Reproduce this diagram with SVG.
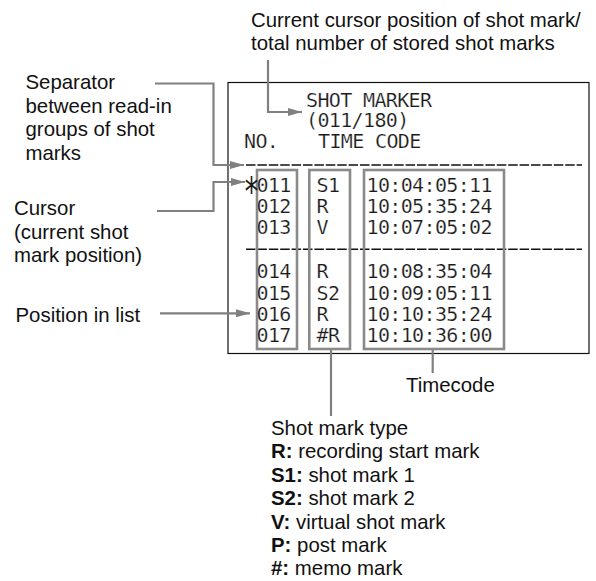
<svg xmlns="http://www.w3.org/2000/svg" width="596" height="581" viewBox="0 0 596 581">
<defs>
<style>
.lbl{font-family:"Liberation Sans",Arial,sans-serif;font-size:20.4px;fill:#111}
.b{font-weight:bold}
.lcd{font-family:"DejaVu Sans Mono","Liberation Mono",monospace;font-size:20px;letter-spacing:-0.64px;fill:#1a1a1a;stroke:#fff;stroke-width:0.2}
.ast{font-family:"DejaVu Sans Mono","Liberation Mono",monospace;font-size:39px;fill:#1a1a1a;text-anchor:middle}
.conn{fill:none;stroke:#808080;stroke-width:2.2}
.col{fill:none;stroke:#8a8a8a;stroke-width:2.6}
.dash{stroke:#111;stroke-width:1.6;stroke-dasharray:9.5 1.9}
</style>
<marker id="ah" viewBox="0 0 14 8" refX="14" refY="4" markerWidth="14" markerHeight="8" markerUnits="userSpaceOnUse" orient="auto">
<path d="M0,0 L14,4 L0,8 Z" fill="#808080"/>
</marker>
</defs>
<rect width="596" height="581" fill="#fff"/>

<g id="screen">
<rect x="228" y="82.5" width="361" height="271" fill="none" stroke="#111" stroke-width="1.2"/>
<text class="lcd" x="306" y="106.5">SHOT MARKER</text>
<text class="lcd" x="306" y="126.5">(011/180)</text>
<text class="lcd" x="244" y="147.5">NO.</text>
<text class="lcd" x="318" y="147.5">TIME CODE</text>
<line class="dash" x1="246" y1="165" x2="582" y2="165"/>
<line class="dash" x1="246" y1="249.3" x2="582" y2="249.3"/>
</g>

<g id="col-position">
<rect class="col" x="257" y="170" width="40" height="179"/>
<text class="ast" transform="translate(251.5,205) scale(0.7,1)" x="0" y="0">*</text>
<text class="lcd" x="256.5" y="191.5">011</text>
<text class="lcd" x="256.5" y="213">012</text>
<text class="lcd" x="256.5" y="234.3">013</text>
<text class="lcd" x="256.5" y="278.3">014</text>
<text class="lcd" x="256.5" y="299.5">015</text>
<text class="lcd" x="256.5" y="320.7">016</text>
<text class="lcd" x="256.5" y="342">017</text>
</g>

<g id="col-type">
<rect class="col" x="309.3" y="170" width="40.7" height="179"/>
<text class="lcd" x="316.5" y="191.5">S1</text>
<text class="lcd" x="316.5" y="213">R</text>
<text class="lcd" x="316.5" y="234.3">V</text>
<text class="lcd" x="316.5" y="278.3">R</text>
<text class="lcd" x="316.5" y="299.5">S2</text>
<text class="lcd" x="316.5" y="320.7">R</text>
<text class="lcd" x="316.5" y="342">#R</text>
</g>

<g id="col-timecode">
<rect class="col" x="364" y="170" width="140" height="179"/>
<text class="lcd" x="366.5" y="191.5">10:04:05:11</text>
<text class="lcd" x="366.5" y="213">10:05:35:24</text>
<text class="lcd" x="366.5" y="234.3">10:07:05:02</text>
<text class="lcd" x="366.5" y="278.3">10:08:35:04</text>
<text class="lcd" x="366.5" y="299.5">10:09:05:11</text>
<text class="lcd" x="366.5" y="320.7">10:10:35:24</text>
<text class="lcd" x="366.5" y="342">10:10:36:00</text>
</g>

<g id="label-current">
<text class="lbl" x="251" y="26.5">Current cursor position of shot mark/</text>
<text class="lbl" x="251" y="50">total number of stored shot marks</text>
</g>

<g id="label-separator">
<text class="lbl" x="25.5" y="89.3">Separator</text>
<text class="lbl" x="25.5" y="112.8">between read-in</text>
<text class="lbl" x="25.5" y="136.3">groups of shot</text>
<text class="lbl" x="25.5" y="159.8">marks</text>
</g>

<g id="label-cursor">
<text class="lbl" x="14" y="215">Cursor</text>
<text class="lbl" x="14" y="238.5">(current shot</text>
<text class="lbl" x="14" y="262">mark position)</text>
</g>

<g id="label-position">
<text class="lbl" x="15.5" y="321.7">Position in list</text>
</g>

<g id="label-timecode">
<text class="lbl" x="406" y="391.7">Timecode</text>
</g>

<g id="label-type">
<text class="lbl" x="271" y="435">Shot mark type</text>
<text class="lbl" x="271" y="458.4"><tspan class="b">R:</tspan> recording start mark</text>
<text class="lbl" x="271" y="481.8"><tspan class="b">S1:</tspan> shot mark 1</text>
<text class="lbl" x="271" y="505.2"><tspan class="b">S2:</tspan> shot mark 2</text>
<text class="lbl" x="271" y="528.6"><tspan class="b">V:</tspan> virtual shot mark</text>
<text class="lbl" x="271" y="552"><tspan class="b">P:</tspan> post mark</text>
<text class="lbl" x="271" y="575.4"><tspan class="b">#:</tspan> memo mark</text>
</g>

<g id="connectors">
<path class="conn" d="M268,60 V112 H302" marker-end="url(#ah)"/>
<path class="conn" d="M155,83.5 H213.5 V165 H244" marker-end="url(#ah)"/>
<path class="conn" d="M157,211 H213.5 V182 H245" marker-end="url(#ah)"/>
<path class="conn" d="M160,313.3 H250" marker-end="url(#ah)"/>
<path class="conn" d="M331,350 V416"/>
<path class="conn" d="M432.7,350 V373"/>
</g>
</svg>
